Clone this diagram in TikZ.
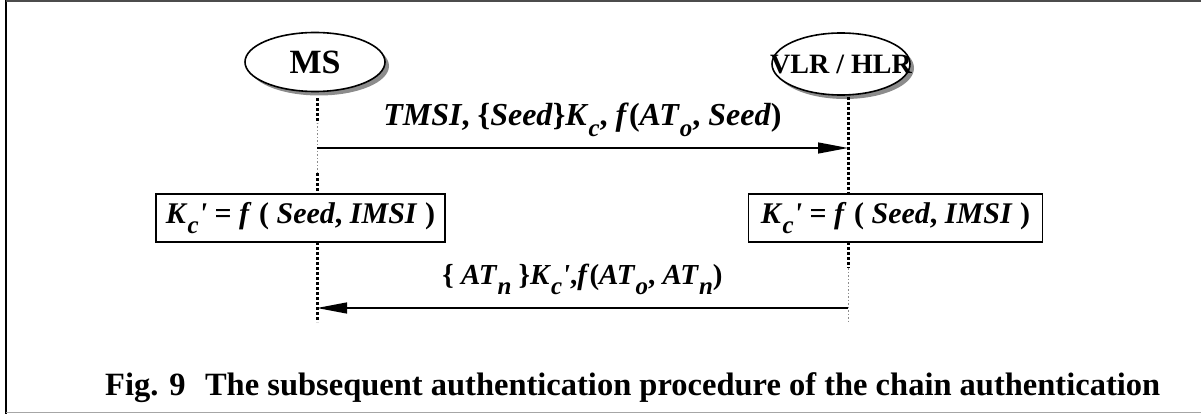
\documentclass[tikz,border=0pt]{standalone}
\usepackage{fontspec}
\setmainfont{Liberation Serif}
\usetikzlibrary{shapes.geometric,arrows.meta}
% lowered, smaller index letter
\newcommand\lo[1]{\raisebox{-0.36em}{\fontsize{25}{25}\selectfont\textit{#1}}}
\newcommand\pr{\textit{\textquotesingle}}
\tikzset{
  x=1pt, y=-1pt,
  actor/.style={ellipse, draw, line width=1.6pt, fill=white, inner sep=0pt,
    minimum width=140pt, minimum height=59pt},
  shade/.style={ellipse, fill=black!45, draw=none, inner sep=0pt,
    minimum width=140pt, minimum height=59pt},
  actorname/.style={inner sep=0pt, font=\bfseries},
  lifeline/.style={line width=3pt, dash pattern=on 3pt off 2pt},
  faintline/.style={line width=0.7pt, black!45, dash pattern=on 1.5pt off 2pt},
  calc box/.style={draw, line width=1.2pt, fill=white, inner sep=0pt,
    minimum width=289pt, minimum height=48pt,
    font=\fontsize{30}{30}\selectfont\bfseries},
  msg/.style={line width=1.3pt, -{Triangle[length=30pt,width=11pt]}},
  msglabel/.style={font=\fontsize{32}{32}\selectfont\bfseries},
}
\begin{document}
\begin{tikzpicture}
\useasboundingbox (0,0) rectangle (1201,414);
% frame
\draw[line width=2.6pt] (6,0) -- (6,414);
\draw[line width=1.6pt, black!70] (6,1) -- (1201,1);
\draw[line width=1.4pt, black!35] (6,412.5) -- (1201,412.5);

% actors with drop shadows
\node[shade] at (319,66) {};
\node[actor] (ms) at (315,62) {};
\node[actorname, font=\fontsize{34}{34}\selectfont\bfseries] (msname) at (ms.center) {MS};
\node[shade, minimum width=138pt, minimum height=62pt] at (845,68) {};
\node[actor, minimum width=138pt, minimum height=62pt] (vlr) at (841,64) {};
\node[actorname, font=\fontsize{28}{28}\selectfont\bfseries] (vlrname) at (vlr.center) {VLR / HLR};

% lifeline anchors
\coordinate (msA) at (317,98);
\coordinate (msB) at (317,123);
\coordinate (msC) at (317,173);
\coordinate (msD) at (317,242);
\coordinate (msE) at (317,322);
\coordinate (vlA) at (848,97);
\coordinate (vlD) at (848,242);
\coordinate (vlF) at (848,268);
\coordinate (vlE) at (848,322);
\coordinate (msT) at (317,148);
\coordinate (vlT) at (848,148);
\coordinate (msR) at (317,308);
\coordinate (vlR) at (848,308);

% lifelines
\draw[lifeline] (msA) -- (msB);
\draw[faintline] (msB) -- (msC);
\draw[lifeline] (msC) -- (317,194);
\draw[lifeline] (msD) -- (msE);
\draw[lifeline] (vlA) -- (848,194);
\draw[lifeline] (vlD) -- (vlF);
\draw[faintline] (vlF) -- (vlE);

% key derivation on both sides
\node[calc box] (kms) at (300.5,218)
  {\textit{K}\lo{c}\pr\ = \textit{f} ( \textit{Seed}, \textit{IMSI} )};
\node[calc box, minimum width=294pt] (kvlr) at (895.5,218)
  {\textit{K}\lo{c}\pr\ = \textit{f} ( \textit{Seed}, \textit{IMSI} )};

% messages
\draw[msg] (msT) -- (vlT) node[msglabel, midway, above=7pt]
  {\textit{TMSI}, \{\textit{Seed}\}\textit{K}\lo{c}, \textit{f}(\textit{AT}\lo{o}, \textit{Seed})};
\draw[msg] (vlR) -- (msR) node[msglabel, midway, above=9pt,
  font=\fontsize{29}{29}\selectfont\bfseries]
  {\{ \textit{AT}\lo{n} \}\textit{K}\lo{c}\pr,\textit{f}(\textit{AT}\lo{o}, \textit{AT}\lo{n})};

% caption
\node[anchor=base west, inner sep=0pt, font=\fontsize{32}{32}\selectfont\bfseries]
  (cap) at (105,395)
  {\resizebox{1055pt}{!}{Fig. 9\hspace{0.6em}The subsequent authentication procedure of the chain authentication}};
\end{tikzpicture}
\end{document}
